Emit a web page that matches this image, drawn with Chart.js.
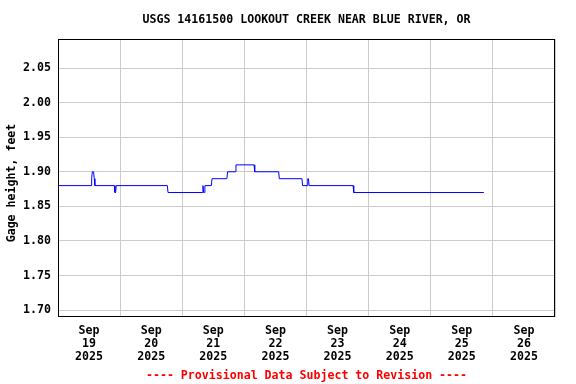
<!DOCTYPE html>
<html>
<head>
<meta charset="utf-8">
<script src="https://cdn.jsdelivr.net/npm/chart.js@4"></script>
<style>
  body { margin: 0; background: #fff; }
  canvas { display: block; }
</style>
</head>
<body>
<canvas id="gage" width="576" height="384"></canvas>
<script>
// readings (Sep 19 00:00 onward)
const readTimes = [
  '19 00:00', '19 12:45', '19 13:00', '19 13:15', '19 13:45', '19 14:00', '19 14:15',
  '19 21:45', '19 22:00', '19 22:15', '19 22:30',
  '20 18:15', '20 18:30',
  '21 07:45', '21 08:00', '21 08:15', '21 08:30', '21 08:45',
  '21 11:15', '21 11:30', '21 17:15', '21 17:30', '21 20:30', '21 20:45',
  '22 03:45', '22 04:00', '22 13:15', '22 13:30', '22 22:15', '22 22:30',
  '23 00:15', '23 00:30', '23 00:45', '23 01:00',
  '23 18:00', '23 18:15', '25 20:30'
];
const gageFeet = [
  1.88, 1.88, 1.89, 1.90, 1.90, 1.89, 1.88,
  1.88, 1.87, 1.87, 1.88,
  1.88, 1.87,
  1.87, 1.88, 1.87, 1.87, 1.88,
  1.88, 1.89, 1.89, 1.90, 1.90, 1.91,
  1.91, 1.90, 1.90, 1.89, 1.89, 1.88,
  1.88, 1.89, 1.89, 1.88,
  1.88, 1.87, 1.87
];
const dayLabels = ['19', '20', '21', '22', '23', '24', '25', '26'];
const monthLabel = 'Sep';
const yearLabel = '2025';
const yTicks = [1.70, 1.75, 1.80, 1.85, 1.90, 1.95, 2.00, 2.05];

const firstDay = 19;
function toHours(s) {
  const [d, hm] = s.split(' ');
  const [h, m] = hm.split(':').map(Number);
  return (Number(d) - firstDay) * 24 + h + m / 60;
}
const points = readTimes.map((t, i) => ({ x: toHours(t), y: gageFeet[i] }));

const fontFamily = '"DejaVu Sans Mono", monospace';
const boldFont = { family: fontFamily, size: 11.6, weight: 'bold' };

const frameAndText = {
  id: 'frameAndText',
  afterDraw(chart) {
    const { ctx, chartArea: a } = chart;
    ctx.save();
    ctx.strokeStyle = '#000';
    ctx.lineWidth = 1;
    ctx.strokeRect(a.left + 0.5, a.top + 0.5, a.right - a.left - 1, a.bottom - a.top - 1);
    ctx.font = 'bold 11.6px ' + fontFamily;
    ctx.textAlign = 'center';
    ctx.textBaseline = 'middle';
    const cx = (a.left + a.right) / 2;
    ctx.fillStyle = '#000';
    ctx.fillText('USGS 14161500 LOOKOUT CREEK NEAR BLUE RIVER, OR', cx, 20);
    // y axis title
    ctx.save();
    ctx.translate(12, 183);
    ctx.rotate(-Math.PI / 2);
    ctx.fillText('Gage height, feet', 0, 0);
    ctx.restore();
    ctx.fillStyle = '#ff0000';
    ctx.fillText('---- Provisional Data Subject to Revision ----', cx, 376);
    ctx.restore();
  }
};

new Chart(document.getElementById('gage'), {
  type: 'line',
  data: {
    datasets: [{
      data: points,
      borderColor: '#0000ff',
      borderWidth: 1,
      pointRadius: 0,
      tension: 0,
      fill: false
    }]
  },
  options: {
    responsive: false,
    animation: false,
    devicePixelRatio: 1,
    layout: { padding: { top: 39, right: 21, left: 0, bottom: 0 } },
    plugins: { legend: { display: false }, tooltip: { enabled: false } },
    scales: {
      x: {
        type: 'linear',
        min: 0,
        max: dayLabels.length * 24,
        afterBuildTicks(scale) {
          const t = [];
          for (let h = 0; h <= dayLabels.length * 24; h += 12) t.push({ value: h });
          scale.ticks = t;
        },
        afterFit(scale) { scale.height = 67; },
        grid: {
          drawTicks: false,
          color: c => (c.tick && c.tick.value % 24 === 0) ? '#cccccc' : 'rgba(0,0,0,0)'
        },
        border: { display: false },
        ticks: {
          autoSkip: false,
          maxRotation: 0,
          padding: 7,
          color: '#000',
          font: { family: fontFamily, size: 11.6, weight: 'bold', lineHeight: 1.14 },
          callback: v => (v % 24 === 12) ? [monthLabel, dayLabels[Math.floor(v / 24)], yearLabel] : ''
        }
      },
      y: {
        min: 1.69,
        max: 2.092,
        afterBuildTicks(scale) { scale.ticks = yTicks.map(v => ({ value: v })); },
        afterFit(scale) { scale.width = 58; },
        grid: { drawTicks: false, color: '#cccccc' },
        border: { display: false },
        ticks: {
          padding: 7,
          color: '#000',
          font: boldFont,
          callback: v => v.toFixed(2)
        }
      }
    }
  },
  plugins: [frameAndText]
});
</script>
</body>
</html>
